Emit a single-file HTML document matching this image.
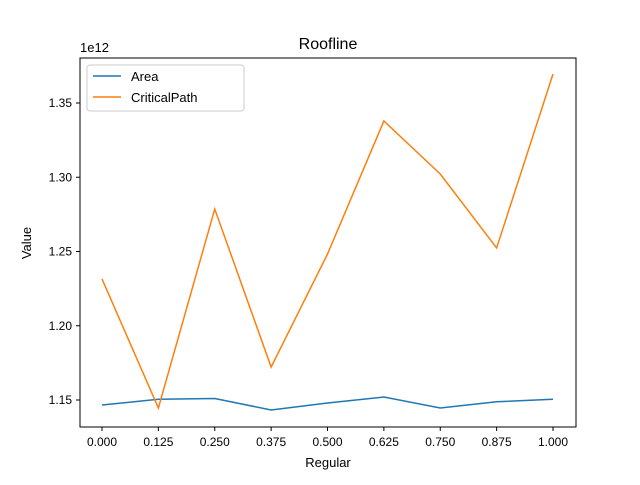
<!DOCTYPE html>
<html><head><meta charset="utf-8"><style>
body{margin:0;background:#fff;}
svg text{font-family:"Liberation Sans","DejaVu Sans",sans-serif;fill:#000;}
</style></head><body>
<svg id="chart" width="640" height="480" xmlns="http://www.w3.org/2000/svg">
<rect width="640" height="480" fill="#fff"/>
<text x="328" y="49" font-size="16" text-anchor="middle">Roofline</text>
<text x="328" y="467" font-size="13" text-anchor="middle">Regular</text>
<text x="31" y="243" font-size="13" text-anchor="middle" transform="rotate(-90 31 243)">Value</text>
<text x="80" y="52" font-size="13">1e12</text>
<g id="xticks"></g><g id="yticks"></g><g id="lines"></g>
<rect x="80" y="58" width="496" height="369" fill="none" stroke="#000" stroke-width="1"/>
<g>
<rect x="87" y="65" width="157" height="46" rx="3" fill="#fff" fill-opacity="0.8" stroke="#ccc"/>
<g><line x1="93" y1="76" x2="121" y2="76" stroke="#1f77b4" stroke-width="1.5"/><text x="131" y="81" font-size="13">Area</text></g>
<g><line x1="93" y1="97" x2="121" y2="97" stroke="#ff7f0e" stroke-width="1.5"/><text x="131" y="102" font-size="13">CriticalPath</text></g>
</g>
</svg>
<script>
const categories=[0,0.125,0.25,0.375,0.5,0.625,0.75,0.875,1.0];
const xTickLabels=["0.000","0.125","0.250","0.375","0.500","0.625","0.750","0.875","1.000"];
const areaValues=[1.1466,1.1505,1.151,1.1433,1.148,1.152,1.1446,1.1488,1.1505];
const criticalPathValues=[1.2315,1.1446,1.2786,1.1722,1.2483,1.3379,1.3022,1.2524,1.3695];
const yTicks=[1.15,1.20,1.25,1.30,1.35];
const yTickLabels=["1.15","1.20","1.25","1.30","1.35"];
const NS="http://www.w3.org/2000/svg";
const xs=v=>102+v*451;
const ys=v=>400-(v-1.15)/0.05*74.25;
function mk(t,a,p){const e=document.createElementNS(NS,t);for(const k in a)e.setAttribute(k,a[k]);p.appendChild(e);return e;}
const xt=document.getElementById('xticks'),yt=document.getElementById('yticks'),ln=document.getElementById('lines');
categories.forEach((c,i)=>{const g=mk('g',{},xt);


mk('line',{x1:xs(c),x2:xs(c),y1:427,y2:431,stroke:'#000'},g);
const t=mk('text',{x:xs(c),y:446,'font-size':12,'text-anchor':'middle'},g);t.textContent=xTickLabels[i];});
yTicks.forEach((v,i)=>{const g=mk('g',{},yt);


mk('line',{x1:76,x2:80,y1:ys(v),y2:ys(v),stroke:'#000'},g);
const t=mk('text',{x:72,y:ys(v)+4,'font-size':12,'text-anchor':'end'},g);t.textContent=yTickLabels[i];});
function series(vals,color,name){const p=mk('polyline',{points:vals.map((v,i)=>xs(categories[i])+','+ys(v)).join(' '),fill:'none',stroke:color,'stroke-width':1.5},ln);

}
series(areaValues,'#1f77b4','area-line');
series(criticalPathValues,'#ff7f0e','criticalpath-line');
</script>
</body></html>
